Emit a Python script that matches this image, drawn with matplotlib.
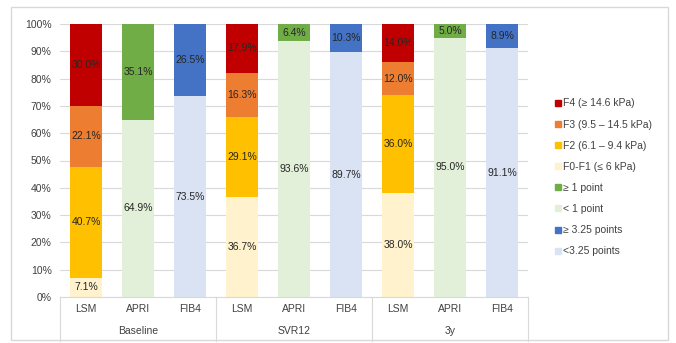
import matplotlib
matplotlib.use("Agg")
import matplotlib.pyplot as plt
from matplotlib.patches import Patch, Rectangle
import matplotlib.transforms as mtransforms

groups = ["Baseline", "SVR12", "3y"]
methods = ["LSM", "APRI", "FIB4"]

# LSM stages (bottom to top): F0-F1, F2, F3, F4
lsm_f0f1 = [7.1, 36.7, 38.0]
lsm_f2 = [40.7, 29.1, 36.0]
lsm_f3 = [22.1, 16.3, 12.0]
lsm_f4 = [30.0, 17.9, 14.0]
# APRI: < 1 point, >= 1 point
apri_low = [64.9, 93.6, 95.0]
apri_high = [35.1, 6.4, 5.0]
# FIB4: < 3.25, >= 3.25
fib4_low = [73.5, 89.7, 91.1]
fib4_high = [26.5, 10.3, 8.9]

labels = ["F4 (≥ 14.6 kPa)", "F3 (9.5 – 14.5 kPa)", "F2 (6.1 – 9.4 kPa)", "F0-F1 (≤ 6 kPa)",
          "≥ 1 point", "< 1 point", "≥ 3.25 points", "<3.25 points"]
colors = {"F4": "#C00000", "F3": "#ED7D31", "F2": "#FFC000", "F0": "#FFF2CC",
          "A_hi": "#70AD47", "A_lo": "#E2F0D9", "B_hi": "#4472C4", "B_lo": "#DAE3F3"}

plt.rcParams['font.family'] = ['Liberation Sans', 'DejaVu Sans']
fig = plt.figure(figsize=(6.76, 3.43), dpi=100)
fig.patches.append(Rectangle((11/676, 3/343), 657/676, 333/343, transform=fig.transFigure,
                             fill=False, edgecolor="#d9d9d9", lw=1.0, zorder=0))
ax = fig.add_axes([60/676, 46/343, 468/676, 273/343])

w = 0.62
txt = "#262626"
fs = 7.5

def stack(x, vals, cols):
    b = 0
    for v, c in zip(vals, cols):
        ax.bar(x, v, w, bottom=b, color=c, zorder=2)
        ax.text(x, b + v/2, f"{v:.1f}%", ha="center", va="center", fontsize=fs, color=txt, zorder=3)
        b += v

for g in range(3):
    base = g * 3
    stack(base, [lsm_f0f1[g], lsm_f2[g], lsm_f3[g], lsm_f4[g]],
          [colors["F0"], colors["F2"], colors["F3"], colors["F4"]])
    stack(base + 1, [apri_low[g], apri_high[g]], [colors["A_lo"], colors["A_hi"]])
    stack(base + 2, [fib4_low[g], fib4_high[g]], [colors["B_lo"], colors["B_hi"]])

ax.set_xlim(-0.5, 8.5)
ax.set_ylim(0, 100)
ax.set_yticks(range(0, 101, 10))
ax.set_yticklabels([f"{v}%" for v in range(0, 101, 10)], fontsize=fs, color="#404040")
ax.yaxis.grid(True, color="#d9d9d9", lw=0.8, zorder=0)
ax.set_axisbelow(True)
for s in ax.spines.values():
    s.set_visible(False)
ax.spines["bottom"].set_visible(True)
ax.spines["bottom"].set_color("#d9d9d9")
ax.tick_params(axis="y", length=0, pad=6)
ax.set_xticks(range(9))
ax.set_xticklabels(methods * 3, fontsize=fs, color="#404040")
ax.tick_params(axis="x", length=0, pad=5)

trans = mtransforms.blended_transform_factory(ax.transData, ax.transAxes)
for xs in [-0.5, 2.5, 5.5, 8.5]:
    ax.plot([xs, xs], [0, -0.16], transform=trans, color="#d9d9d9", lw=0.8, clip_on=False)
for g, name in enumerate(groups):
    ax.text(g*3 + 1, -0.125, name, transform=trans, ha="center", va="center", fontsize=fs, color="#404040")

handles = [Patch(color=colors[k]) for k in ["F4", "F3", "F2", "F0", "A_hi", "A_lo", "B_hi", "B_lo"]]
fig.legend(handles, labels, loc="upper left", bbox_to_anchor=(546/676, 254/343), frameon=False,
           fontsize=fs, handlelength=0.5, handleheight=0.5, handletextpad=0.2, labelspacing=1.07,
           labelcolor="#404040")

fig.savefig("out.png", dpi=100)
